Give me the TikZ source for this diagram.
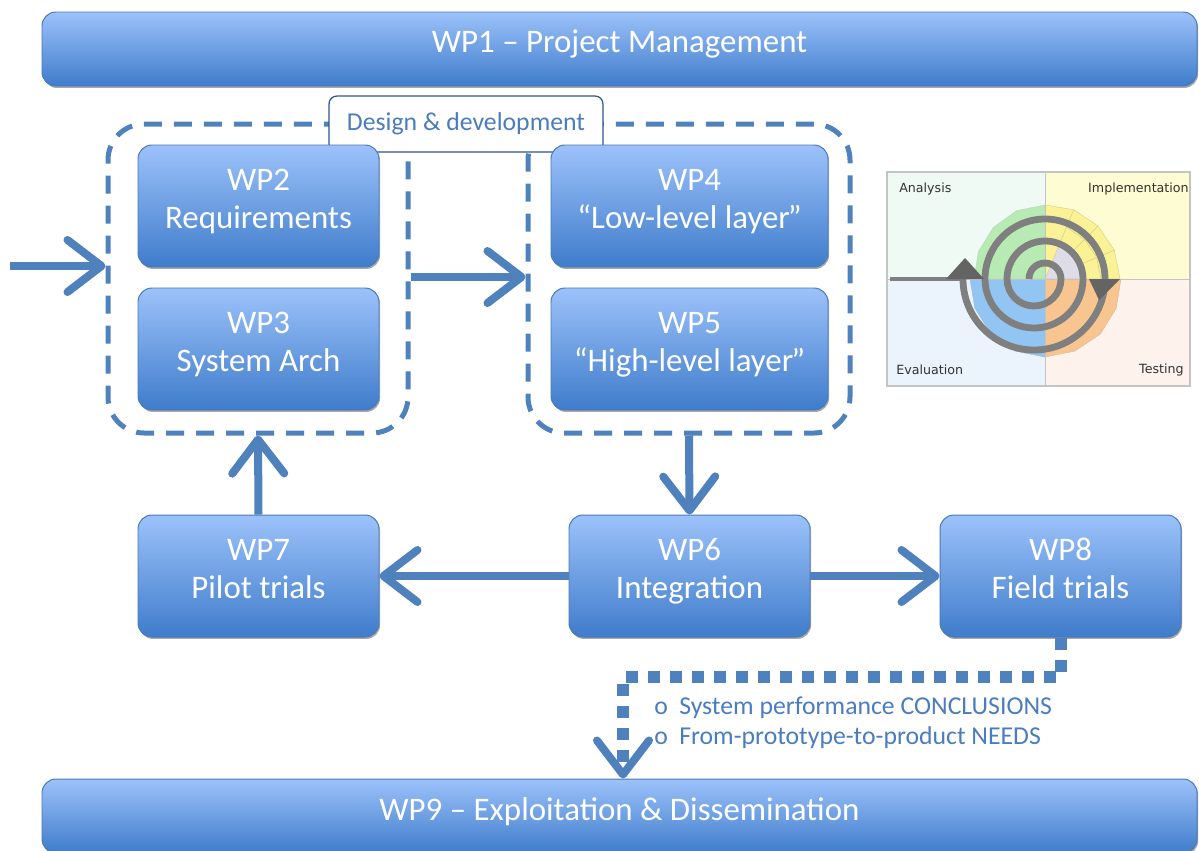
\documentclass[tikz,border=0pt]{standalone}
\usepackage{fontspec}
\setmainfont{Carlito}
\newfontfamily\dejavu{DejaVu Sans}
\usetikzlibrary{arrows.meta,shadows}
\definecolor{boxtop}{HTML}{9CC2FA}
\definecolor{boxbot}{HTML}{3F7CCB}
\definecolor{boxedge}{HTML}{4A7AB8}
\definecolor{arrblue}{HTML}{4F81BD}
\definecolor{ddtext}{HTML}{4A7CC0}
\definecolor{ddedge}{HTML}{2E5597}
\definecolor{shadowgray}{HTML}{A8A8A8}
\definecolor{qana}{HTML}{EFFAF5}
\definecolor{qimp}{HTML}{FDFCD2}
\definecolor{qeva}{HTML}{EBF3FD}
\definecolor{qtes}{HTML}{FDF3EC}
\definecolor{qline}{HTML}{C4C4C4}
\definecolor{fgreen}{HTML}{B8EAB4}
\definecolor{fyellow}{HTML}{FBF296}
\definecolor{fblue}{HTML}{93C5F2}
\definecolor{forange}{HTML}{F8C48F}
\definecolor{flav}{HTML}{DEDCE6}
\definecolor{fedge}{HTML}{D2D08C}
\definecolor{spgray}{HTML}{7F7F7F}
\definecolor{spdark}{HTML}{646464}
\newcommand\pxu{0.025cm}
\begin{document}
\begin{tikzpicture}[x=0.025cm,y=-0.025cm,
  wp/.style={rounded corners=0.35cm, draw=boxedge, line width=0.7pt,
    top color=boxtop, bottom color=boxbot, text=white,
    font=\fontsize{23.4}{27}\selectfont, align=center, inner sep=0pt,
    text depth=0.37cm,
    general shadow={fill=shadowgray, shadow xshift=0.8pt, shadow yshift=-1.4pt}},
  grp/.style={draw=arrblue, line width=0.125cm, rounded corners=0.9cm,
    dash pattern=on 0.45cm off 0.3cm, inner sep=0pt},
  ddbox/.style={draw=ddedge, fill=white, line width=0.9pt, rounded corners=0.2cm,
    text=ddtext, font=\fontsize{18.3}{22}\selectfont, inner sep=0pt},
  arr/.style={draw=arrblue, line width=0.2cm,
    -{Straight Barb[length=0.85cm, width=1.3cm, round]}},
  dots/.style={draw=arrblue, line width=0.3cm, dash pattern=on 0.3cm off 0.25cm,
    -{Straight Barb[length=0.85cm, width=1.3cm, round, line width=0.2cm 0]}},
  bul/.style={text=ddtext, font=\fontsize{18.3}{22}\selectfont, inner sep=0pt},
  qlab/.style={text=black!80, font=\dejavu\fontsize{9}{11}\selectfont, inner sep=0pt}
]
\useasboundingbox (0,0) rectangle (1199,850);
\clip (0,0) rectangle (1199,850);

% top and bottom bars
\node[wp, minimum width=1155*\pxu, minimum height=74*\pxu] (wp1) at (619.5,49) {WP1 – Project Management};
\node[wp, minimum width=1155*\pxu, minimum height=74*\pxu] (wp9) at (619.5,816) {WP9 – Exploitation \& Dissemination};

% groups
\node[grp, minimum width=300*\pxu, minimum height=309*\pxu] (g1) at (258,278.5) {};
\node[grp, minimum width=322*\pxu, minimum height=309*\pxu] (g2) at (689,278.5) {};
\node[ddbox, minimum width=274*\pxu, minimum height=56*\pxu] (dd) at (466,124) {Design \& development};

% work package boxes
\node[wp, minimum width=241*\pxu, minimum height=122*\pxu] (wp2) at (258.5,206) {WP2\\Requirements};
\node[wp, minimum width=241*\pxu, minimum height=122*\pxu] (wp3) at (258.5,349) {WP3\\System Arch};
\node[wp, minimum width=277*\pxu, minimum height=122*\pxu] (wp4) at (689.5,206) {WP4\\“Low-level layer\kern-1.5pt”};
\node[wp, minimum width=277*\pxu, minimum height=122*\pxu] (wp5) at (689.5,349) {WP5\\“High-level layer\kern-1.5pt”};
\node[wp, minimum width=241*\pxu, minimum height=122*\pxu] (wp7) at (258.5,576) {WP7\\Pilot trials};
\node[wp, minimum width=241*\pxu, minimum height=122*\pxu] (wp6) at (689.5,576) {WP6\\Integration};
\node[wp, minimum width=241*\pxu, minimum height=122*\pxu] (wp8) at (1060.5,576) {WP8\\Field trials};

% arrows
\coordinate (in) at (10,266);
\coordinate (a2) at (0,277);
\draw[arr] (in) -- (in -| g1.west);
\draw[arr] (g1.east |- a2) -- (g2.west |- a2);
\draw[arr] (g2.south) -- (wp6.north);
\draw[arr] (wp7.north) -- (g1.south);
\draw[arr] (wp6.west) -- (wp7.east);
\draw[arr] (wp6.east) -- (wp8.west);

% dotted feedback
\coordinate (dc) at (623,677);
\draw[dots] (wp8.south) |- (dc) -- (dc |- wp9.north);

% bullets
\node[bul, anchor=base west] (b1) at (654,714) {\makebox[0.625cm][l]{o}System performance CONCLUSIONS};
\node[bul, anchor=base west] (b2) at (654,744) {\makebox[0.625cm][l]{o}From-prototype-to-product NEEDS};

% spiral picture
\fill[qana] (887,172) rectangle (1045,279);
\fill[qimp] (1045,172) rectangle (1190,279);
\fill[qeva] (887,279) rectangle (1045,386);
\fill[qtes] (1045,279) rectangle (1190,386);
\begin{scope}[shift={(1045,279)}]
  \filldraw[fill=fgreen, draw=fgreen!80!black!60, line width=0.3pt] (0,0) -- (180:71) -- (202.5:72) -- (225:73) -- (247.5:74) -- (270:74) -- cycle;
  \filldraw[fill=fyellow, draw=fedge, line width=0.3pt] (0,0) -- (270:74) -- (292.5:75) -- (315:75) -- (337.5:75) -- (360:75) -- cycle;
  \filldraw[fill=flav, draw=fedge, line width=0.3pt] (0,0) -- (292.5:36) -- (315:36) -- (337.5:36) -- (360:36) -- cycle;
  \draw[fedge, line width=0.4pt] (292.5:36) -- (292.5:75) (315:36) -- (315:75) (337.5:36) -- (337.5:75);
  \draw[fedge, line width=0.4pt] (292.5:56) -- (315:56) -- (337.5:56) -- (360:56);
  \filldraw[fill=fblue, draw=fblue!80!black!70, line width=0.3pt] (0,0) -- (90:78) -- (112.5:78) -- (135:77) -- (157.5:76) -- (180:75) -- cycle;
  \filldraw[fill=forange, draw=forange!80!black!70, line width=0.3pt] (0,0) -- (0:76) -- (22.5:77) -- (45:78) -- (67.5:78) -- (90:78) -- cycle;
\end{scope}
\draw[qline, line width=0.6pt] (887,279) -- (1190,279) (1045,172) -- (1045,386);
\draw[qline, line width=0.8pt] (887,172) rectangle (1190,386);
\draw[spgray, line width=0.1cm] (890,279) -- (963,279);
\draw[spgray, line width=0.17cm] (963,279)
  arc[start angle=180, end angle=0, radius=71]
  arc[start angle=0, end angle=-180, radius=60]
  arc[start angle=180, end angle=0, radius=49]
  arc[start angle=0, end angle=-180, radius=38]
  arc[start angle=180, end angle=0, radius=27]
  arc[start angle=0, end angle=-180, radius=16];
\fill[spdark] (946,279) -- (965,258) -- (984,279) -- cycle;
\fill[spdark] (1089,279) -- (1120,279) -- (1099,300) -- cycle;
\node[qlab, anchor=west] (qa) at (899,189) {Analysis};
\node[qlab, anchor=east] (qi) at (1189,189) {Implementation};
\node[qlab, anchor=west] (qe) at (896,370) {Evaluation};
\node[qlab, anchor=east] (qt) at (1184,370) {Testing};
\end{tikzpicture}
\end{document}
